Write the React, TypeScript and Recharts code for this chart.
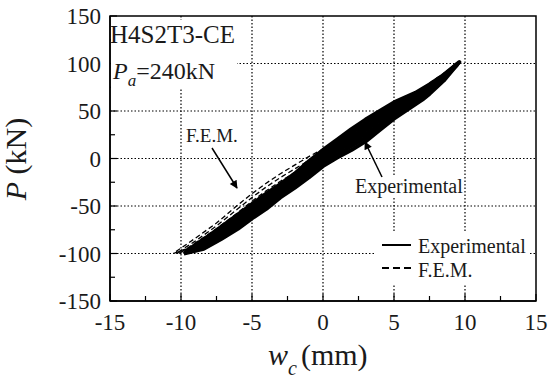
import React from 'react'
import { ComposedChart, Line, XAxis, YAxis, ReferenceLine, ReferenceArea } from 'recharts'

// axis ticks
const xMajor = [-15, -10, -5, 0, 5, 10, 15]
const xMinor = [-12.5, -7.5, -2.5, 2.5, 7.5, 12.5]
const yMajor = [-150, -100, -50, 0, 50, 100, 150]
const yMinor = [-125, -75, -25, 25, 75, 125]
const xGrid = [-10, -5, 0, 5, 10]
const yGrid = [-100, -50, 0, 50, 100]

// Experimental hysteresis cycles [w_c (mm), P (kN)]: loading branch, then unloading branch
const expCycle1: [number, number][] = [
  [-9.8, -100], [-8.4, -95], [-7.2, -85], [-6, -74], [-5, -63], [-4, -53], [-3, -41], [-2, -31], [-1, -20], [0, -8],
  [1, 1], [2, 9], [3, 18], [4, 30], [5, 42], [6, 52], [7, 62], [7.5, 68], [8.5, 82], [9.6, 101.6],
  [8.5, 88], [7.5, 78], [6.5, 69], [5, 59], [4, 50], [3, 41], [2, 31], [1, 20], [0, 9], [-1, -3],
  [-2, -16], [-3, -27], [-4, -37], [-5, -48], [-6, -59], [-7, -70], [-8, -81], [-9, -91], [-9.8, -100],
]
const expCycle2: [number, number][] = [
  [-9.7, -99], [-8.2, -91], [-7, -81], [-6, -71], [-5, -60], [-4, -49], [-3, -37], [-2, -27], [-1, -16], [0, -5],
  [1, 4], [2, 13], [3, 22], [4, 33], [5, 45], [6, 55], [7, 64], [8, 76], [9.5, 100],
  [8.5, 87], [7.5, 77], [6.5, 67], [5, 56], [4, 47], [3, 37], [2, 27], [1, 16], [0, 5], [-1, -7],
  [-2, -19], [-3, -30], [-4, -40], [-5, -51], [-6, -61], [-7, -72], [-8, -83], [-9.7, -99],
]
const expCycle3: [number, number][] = [
  [-9.6, -98], [-8, -87], [-7, -78], [-6, -68], [-5, -57], [-4, -45], [-3, -34], [-2, -23], [-1, -12], [0, -1],
  [1, 8], [2, 17], [3, 26], [4, 36], [5, 48], [6, 58], [7, 67], [8, 78], [9.4, 98],
  [8.4, 85], [7.4, 75], [6.4, 65], [5, 53], [4, 43], [3, 33], [2, 23], [1, 12], [0, 2], [-1, -10],
  [-2, -22], [-3, -32], [-4, -43], [-5, -54], [-6, -64], [-7, -75], [-8, -85], [-9.6, -98],
]
const expCycle4: [number, number][] = [
  [-9.5, -97], [-8, -85], [-7, -75], [-6, -65], [-5, -54], [-4, -43], [-3, -31], [-2, -20], [-1, -9], [0, 2],
  [1, 11], [2, 20], [3, 30], [4, 40], [5, 51], [6, 61], [7, 70], [8, 80], [9.3, 97],
  [8.3, 84], [7.3, 74], [6.3, 64], [5, 52], [4, 41], [3, 31], [2, 21], [1, 10], [0, -1], [-1, -12],
  [-2, -24], [-3, -34], [-4, -44], [-5, -56], [-6, -66], [-7, -77], [-8, -87], [-9.5, -97],
]

// F.E.M. hysteresis cycles
const femCycle1: [number, number][] = [
  [-10.55, -100], [-8, -86], [-6, -66], [-4, -47], [-2, -26], [0, -4], [2, 14], [4, 34], [6, 54], [8, 76], [9.3, 98],
  [7, 74], [5, 56], [3, 37], [1.5, 24], [0, 10], [-1, 2], [-2, -7], [-3, -16], [-4, -26], [-5, -37],
  [-6, -49], [-7.5, -68], [-9, -84], [-10.55, -100],
]
const femCycle2: [number, number][] = [
  [-10.35, -100], [-8, -85], [-6, -65], [-4, -46], [-2, -25], [0, -3], [2, 15], [4, 35], [6, 55], [8, 77], [9.2, 97],
  [7, 73], [5, 55], [3, 36], [1.5, 22], [0, 7], [-1, -2], [-2, -11], [-3, -20], [-4, -30], [-5, -41],
  [-6, -53], [-7.5, -71], [-9, -87], [-10.35, -100],
]
const femCycle3: [number, number][] = [
  [-10.15, -100], [-8, -84], [-6, -64], [-4, -45], [-2, -24], [0, -2], [2, 16], [4, 36], [6, 56], [8, 78], [9.1, 96],
  [7, 72], [5, 54], [3, 35], [1.5, 20], [0, 4], [-1, -6], [-2, -15], [-3, -24], [-4, -34], [-5, -45],
  [-6, -57], [-7.5, -74], [-9, -89], [-10.15, -100],
]

const expCycles = [expCycle1, expCycle2, expCycle3, expCycle4]
const femCycles = [femCycle1, femCycle2, femCycle3]
const toPts = (a: [number, number][]) => a.map(([x, y]) => ({ x, y }))

const FONT = '"Liberation Serif", "Times New Roman", serif'
const INK = '#1a1a1a'
const TM = 10

const XTick = (p: any) => {
  const { x, y, payload } = p
  const v = payload.value
  const major = xMajor.includes(v)
  const axisY = y - TM
  return (
    <g>
      <line x1={x} x2={x} y1={axisY} y2={axisY - (major ? 7 : 5)} stroke="#000" strokeWidth={1.2} />
      {major && (
        <text x={x} y={axisY + 13} dy="0.71em" textAnchor="middle" fontFamily={FONT} fontSize={23} fill={INK}>{v}</text>
      )}
    </g>
  )
}

const YTick = (p: any) => {
  const { x, y, payload } = p
  const v = payload.value
  const major = yMajor.includes(v)
  const axisX = x + TM
  return (
    <g>
      <line x1={axisX} x2={axisX + (major ? 7 : 5)} y1={y} y2={y} stroke="#000" strokeWidth={1.2} />
      {major && (
        <text x={axisX - 9} y={y} dy="0.35em" textAnchor="end" fontFamily={FONT} fontSize={23} fill={INK}>{v}</text>
      )}
    </g>
  )
}

function Overlay() {
  const t = { fontFamily: FONT, fill: INK }
  return (
    <svg width={549} height={383} style={{ position: 'absolute', left: 0, top: 0, pointerEvents: 'none' }}>
      <defs>
        <marker id="ah" viewBox="0 0 10 10" refX="9" refY="5" markerWidth="10" markerHeight="8" orient="auto-start-reverse" markerUnits="userSpaceOnUse">
          <path d="M0,0 L10,5 L0,10 z" fill="#000" />
        </marker>
      </defs>
      {/* specimen labels */}
      <rect x={111} y={20} width={126} height={68} fill="#fff" />
      <text x={110} y={43} fontSize={25} {...t}>H4S2T3-CE</text>
      <text x={113} y={79} fontSize={24} {...t}>
        <tspan fontStyle="italic">P</tspan>
        <tspan fontStyle="italic" fontSize={17} dy={7}>a</tspan>
        <tspan dy={-7}>=240kN</tspan>
      </text>
      {/* annotations */}
      <rect x={185} y={126} width={54} height={19} fill="#fff" />
      <text x={186} y={142} fontSize={19} {...t}>F.E.M.</text>
      <line x1={212} y1={148} x2={237} y2={188} stroke="#000" strokeWidth={1.5} markerEnd="url(#ah)" />
      <rect x={354} y={176} width={110} height={22} fill="#fff" />
      <text x={355} y={193} fontSize={20} {...t}>Experimental</text>
      <line x1={382} y1={177} x2={365} y2={142} stroke="#000" strokeWidth={1.5} markerEnd="url(#ah)" />
      {/* legend */}
      <rect x={376} y={232} width={153} height={52} fill="#fff" />
      <line x1={382} x2={411} y1={245} y2={245} stroke="#000" strokeWidth={2} />
      <text x={418} y={253} fontSize={20} {...t}>Experimental</text>
      <line x1={382} x2={411} y1={268} y2={268} stroke="#000" strokeWidth={2} strokeDasharray="7 4" />
      <text x={418} y={277} fontSize={20} {...t}>F.E.M.</text>
      {/* axis titles */}
      <text transform="translate(26,159) rotate(-90)" textAnchor="middle" fontSize={30} {...t}>
        <tspan fontStyle="italic">P</tspan>
        <tspan> (kN)</tspan>
      </text>
      <text x={268} y={365} fontSize={30} {...t}>
        <tspan fontStyle="italic">w</tspan>
        <tspan fontStyle="italic" fontSize={20} dy={10}>c</tspan>
        <tspan dy={-10} dx={4}>(mm)</tspan>
      </text>
    </svg>
  )
}

export default function App() {
  return (
    <div style={{ position: 'absolute', left: 0, top: 0, width: 549, height: 383, background: '#fff' }}>
      <ComposedChart width={549} height={383} margin={{ top: 16, right: 13, left: 0, bottom: 0 }}>
        <XAxis
          type="number" dataKey="x" domain={[-15, 15]} ticks={[...xMajor, ...xMinor].sort((a, b) => a - b)}
          interval={0} tickSize={0} tickMargin={TM} tickLine={false} tick={<XTick />}
          axisLine={{ stroke: '#000', strokeWidth: 1.5 }} height={82} allowDataOverflow
        />
        <YAxis
          type="number" dataKey="y" domain={[-150, 150]} ticks={[...yMajor, ...yMinor].sort((a, b) => a - b)}
          interval={0} tickSize={0} tickMargin={TM} tickLine={false} tick={<YTick />}
          axisLine={{ stroke: '#000', strokeWidth: 1.5 }} width={110} allowDataOverflow
        />
        {xGrid.map(v => (
          <ReferenceLine key={'gx' + v} x={v} stroke="#000" strokeWidth={1.2} strokeDasharray="1.5 2" />
        ))}
        {yGrid.map(v => (
          <ReferenceLine key={'gy' + v} y={v} stroke="#000" strokeWidth={1.2} strokeDasharray="1.5 2" />
        ))}
        <ReferenceArea x1={-15} x2={15} y1={-150} y2={150} fill="none" stroke="#000" strokeWidth={1.5} />
        {expCycles.map((c, i) => (
          <Line key={'exp' + i} data={toPts(c)} dataKey="y" type="linear" stroke="#000" strokeWidth={4}
            strokeLinejoin="round" dot={false} activeDot={false} isAnimationActive={false} />
        ))}
        {femCycles.map((c, i) => (
          <Line key={'fem' + i} data={toPts(c)} dataKey="y" type="linear" stroke="#000" strokeWidth={1.3}
            strokeDasharray="5 3" dot={false} activeDot={false} isAnimationActive={false} />
        ))}
      </ComposedChart>
      <Overlay />
    </div>
  )
}
